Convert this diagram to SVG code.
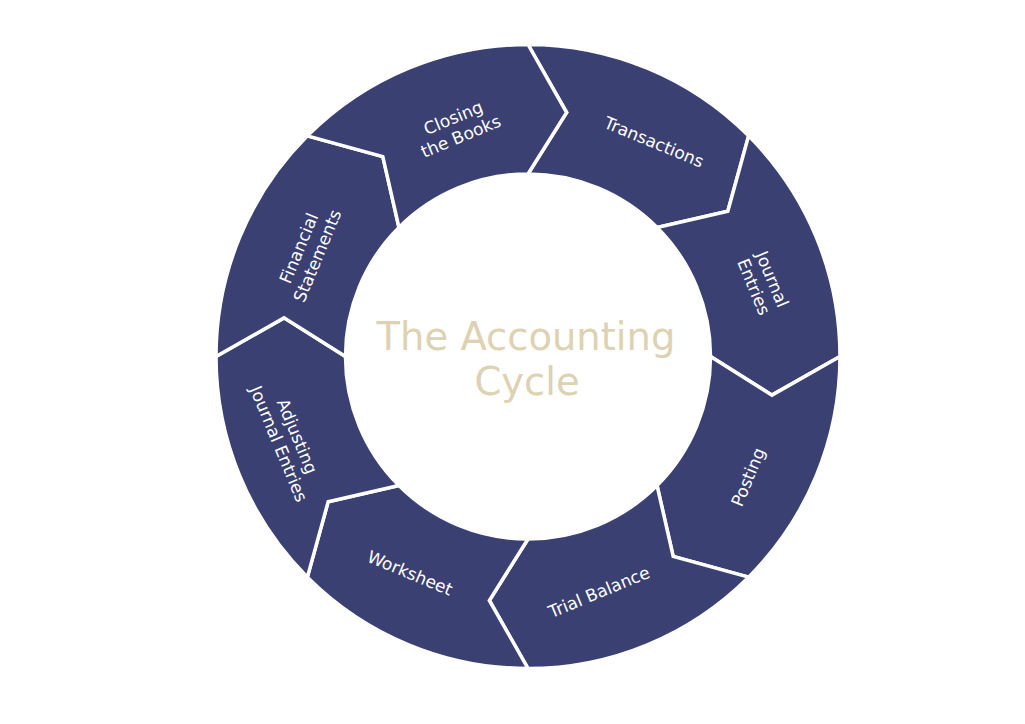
<svg xmlns="http://www.w3.org/2000/svg" width="1025" height="724" viewBox="0 0 1025 724">
<style>
.seg{fill:#3a4072;stroke:#ffffff;stroke-width:3.5;stroke-linejoin:miter}
.lbl{fill:#ffffff;font-family:"DejaVu Sans",Verdana,sans-serif;font-size:17px;text-anchor:middle}
.title{fill:#ddd2b2;font-family:"DejaVu Sans",Verdana,sans-serif;font-size:38.5px;text-anchor:middle}
</style>
<rect width="1025" height="724" fill="#ffffff"/>
<g id="transactions">
<path class="seg" d="M528,44.5 A312,312 0 0 1 748.62,135.88 L727.83,211.32 L657.05,227.45 A182.5,182.5 0 0 0 528,174 L566.64,112.54 Z"/>
<text class="lbl" transform="translate(654,142) rotate(22.5)" y="6">Transactions</text>
</g>
<g id="journal-entries">
<path class="seg" d="M748.62,135.88 A312,312 0 0 1 840,356.5 L771.96,395.14 L710.5,356.5 A182.5,182.5 0 0 0 657.05,227.45 L727.83,211.32 Z"/>
<text class="lbl" transform="translate(763,283) rotate(67.5)"><tspan x="0" y="-4">Journal</tspan><tspan x="0" y="16">Entries</tspan></text>
</g>
<g id="posting">
<path class="seg" d="M840,356.5 A312,312 0 0 1 748.62,577.12 L673.18,556.33 L657.05,485.55 A182.5,182.5 0 0 0 710.5,356.5 L771.96,395.14 Z"/>
<text class="lbl" transform="translate(748,477) rotate(-67.5)" y="6">Posting</text>
</g>
<g id="trial-balance">
<path class="seg" d="M748.62,577.12 A312,312 0 0 1 528,668.5 L489.36,600.46 L528,539 A182.5,182.5 0 0 0 657.05,485.55 L673.18,556.33 Z"/>
<text class="lbl" transform="translate(599,592) rotate(-22.5)" y="6">Trial Balance</text>
</g>
<g id="worksheet">
<path class="seg" d="M528,668.5 A312,312 0 0 1 307.38,577.12 L328.17,501.68 L398.95,485.55 A182.5,182.5 0 0 0 528,539 L489.36,600.46 Z"/>
<text class="lbl" transform="translate(410,573) rotate(22.5)" y="6">Worksheet</text>
</g>
<g id="adjusting-journal-entries">
<path class="seg" d="M307.38,577.12 A312,312 0 0 1 216,356.5 L284.04,317.86 L345.5,356.5 A182.5,182.5 0 0 0 398.95,485.55 L328.17,501.68 Z"/>
<text class="lbl" transform="translate(288,440) rotate(67.5)"><tspan x="0" y="-4">Adjusting</tspan><tspan x="0" y="16">Journal Entries</tspan></text>
</g>
<g id="financial-statements">
<path class="seg" d="M216,356.5 A312,312 0 0 1 307.38,135.88 L382.82,156.67 L398.95,227.45 A182.5,182.5 0 0 0 345.5,356.5 L284.04,317.86 Z"/>
<text class="lbl" transform="translate(308,252) rotate(-67.5)"><tspan x="0" y="-4">Financial</tspan><tspan x="0" y="16">Statements</tspan></text>
</g>
<g id="closing-the-books">
<path class="seg" d="M307.38,135.88 A312,312 0 0 1 528,44.5 L566.64,112.54 L528,174 A182.5,182.5 0 0 0 398.95,227.45 L382.82,156.67 Z"/>
<text class="lbl" transform="translate(457,127) rotate(-22.5)"><tspan x="0" y="-4">Closing</tspan><tspan x="0" y="16">the Books</tspan></text>
</g>
<g id="connectors"></g>
<g id="center-title">
<text class="title" x="526" y="350">The Accounting</text>
<text class="title" x="527" y="395">Cycle</text>
</g>
</svg>
